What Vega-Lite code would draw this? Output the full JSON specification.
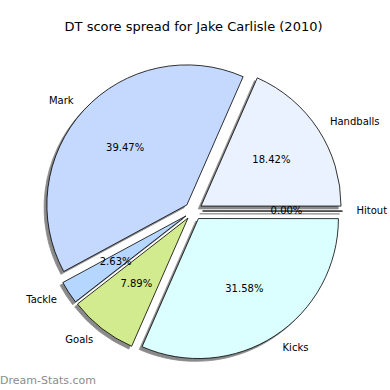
{
  "$schema": "https://vega.github.io/schema/vega-lite/v6.json",
  "padding": {"left": 0, "top": 21, "right": 0, "bottom": 0},
  "background": "white",
  "title": {
    "text": "DT score spread for Jake Carlisle (2010)",
    "font": "DejaVu Sans",
    "fontSize": 13,
    "fontWeight": "normal",
    "color": "#000000",
    "anchor": "middle",
    "offset": 16
  },
  "data": {
    "values": [
      {"part": "Handballs", "frac": 0.1842, "seq": 1},
      {"part": "Mark", "frac": 0.3947, "seq": 2},
      {"part": "Tackle", "frac": 0.0263, "seq": 3},
      {"part": "Goals", "frac": 0.0789, "seq": 4},
      {"part": "Kicks", "frac": 0.3158, "seq": 5},
      {"part": "Hitout", "frac": 0.0, "seq": 6}
    ]
  },
  "vconcat": [
    {
      "width": 387,
      "height": 322,
      "title": {
        "text": "Dream-Stats.com",
        "orient": "bottom",
        "anchor": "start",
        "frame": "group",
        "font": "DejaVu Sans",
        "fontSize": 11,
        "fontWeight": "normal",
        "color": "#8c8c8c",
        "offset": 3
      },
      "encoding": {
        "theta": {
          "field": "frac",
          "type": "quantitative",
          "stack": true,
          "scale": {"domain": [0, 1], "range": [1.5707963, -4.712389]}
        },
        "order": {"field": "seq", "type": "quantitative"}
      },
      "layer": [
        {
          "mark": {
            "type": "arc",
            "outerRadius": 140,
            "fill": "#8a8a8a",
            "stroke": "#8a8a8a",
            "strokeWidth": 0.8,
            "xOffset": {"expr": "9*cos(PI*(datum.frac_start+datum.frac_end)) - 2.8"},
            "yOffset": {"expr": "-9*sin(PI*(datum.frac_start+datum.frac_end)) + 2.8"}
          }
        },
        {
          "mark": {
            "type": "arc",
            "outerRadius": 140,
            "stroke": "#000000",
            "strokeWidth": 0.8,
            "xOffset": {"expr": "9*cos(PI*(datum.frac_start+datum.frac_end))"},
            "yOffset": {"expr": "-9*sin(PI*(datum.frac_start+datum.frac_end))"}
          },
          "encoding": {
            "color": {
              "field": "part",
              "type": "nominal",
              "legend": null,
              "scale": {
                "domain": ["Handballs", "Mark", "Tackle", "Goals", "Kicks", "Hitout"],
                "range": ["#eaf1ff", "#c5d9ff", "#b5d6ff", "#d1eb8e", "#dbffff", "#f0f0f0"]
              }
            }
          }
        },
        {
          "mark": {
            "type": "text",
            "radius": 154,
            "font": "DejaVu Sans",
            "fontSize": 10,
            "color": "#000000",
            "baseline": "middle",
            "align": {"expr": "cos(PI*(datum.frac_start+datum.frac_end)) > 0 ? 'left' : 'right'"},
            "xOffset": {"expr": "9*cos(PI*(datum.frac_start+datum.frac_end))"},
            "yOffset": {"expr": "-9*sin(PI*(datum.frac_start+datum.frac_end))"}
          },
          "encoding": {"text": {"field": "part", "type": "nominal"}}
        },
        {
          "mark": {
            "type": "text",
            "radius": 84,
            "font": "DejaVu Sans",
            "fontSize": 10,
            "color": "#000000",
            "baseline": "middle",
            "align": "center",
            "xOffset": {"expr": "9*cos(PI*(datum.frac_start+datum.frac_end))"},
            "yOffset": {"expr": "-9*sin(PI*(datum.frac_start+datum.frac_end))"}
          },
          "encoding": {"text": {"field": "frac", "type": "quantitative", "format": ".2%"}}
        }
      ]
    }
  ],
  "config": {
    "view": {"stroke": null},
    "concat": {"spacing": 0}
  }
}
